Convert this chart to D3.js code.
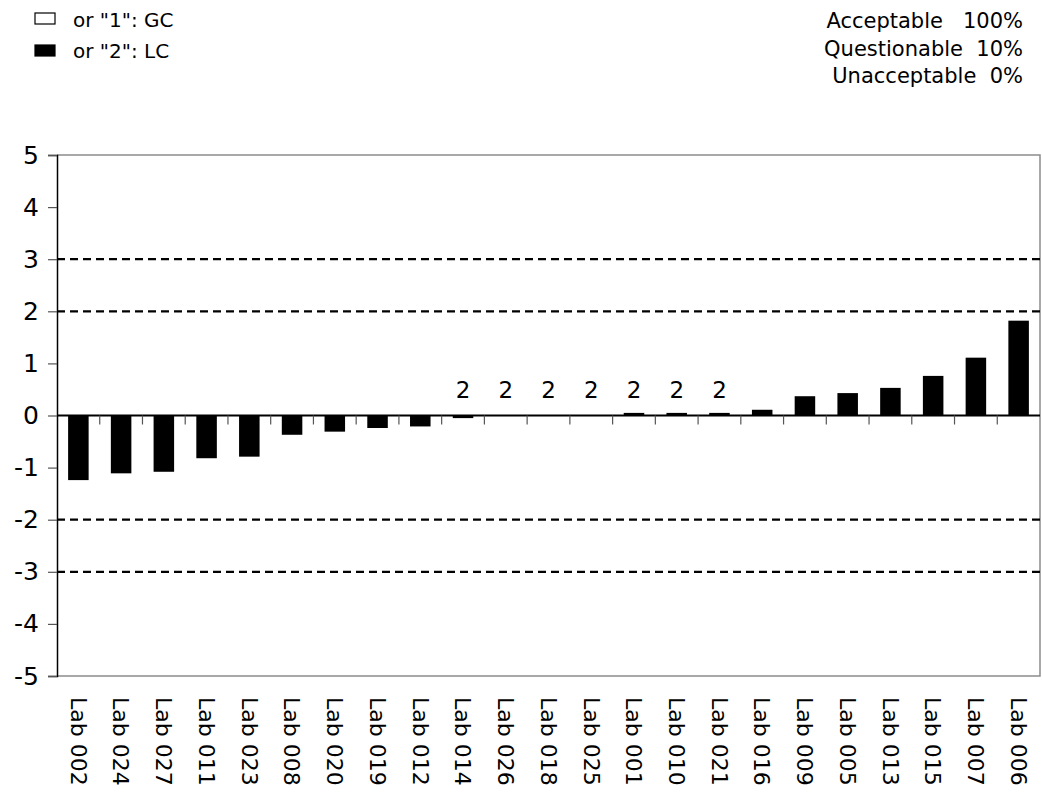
<!DOCTYPE html>
<html>
<head>
<meta charset="utf-8">
<script src="https://cdn.jsdelivr.net/npm/d3@7"></script>
<style>
  body { margin: 0; background: #fff; }
  svg { font-family: "DejaVu Sans", sans-serif; }
</style>
</head>
<body>
<div id="chart"></div>
<script>
// lab results, sorted by z-score
const labs = ["Lab 002", "Lab 024", "Lab 027", "Lab 011", "Lab 023", "Lab 008", "Lab 020", "Lab 019",
  "Lab 012", "Lab 014", "Lab 026", "Lab 018", "Lab 025", "Lab 001", "Lab 010", "Lab 021",
  "Lab 016", "Lab 009", "Lab 005", "Lab 013", "Lab 015", "Lab 007", "Lab 006"];
const zScores = [-1.24, -1.11, -1.08, -0.82, -0.79, -0.37, -0.31, -0.24,
  -0.21, -0.05, 0, 0, 0, 0.05, 0.05, 0.05,
  0.11, 0.37, 0.43, 0.53, 0.76, 1.11, 1.82];
const methods = ["", "", "", "", "", "", "", "",
  "", "2", "2", "2", "2", "2", "2", "2",
  "", "", "", "", "", "", ""];
const yTicks = [-5, -4, -3, -2, -1, 0, 1, 2, 3, 4, 5];
const limits = [3, 2, -2, -3];
const legendItems = [
  { label: 'or "1": GC', filled: false },
  { label: 'or "2": LC', filled: true }
];
const summary = ["Acceptable   100%", "Questionable  10%", "Unacceptable  0%"];

const data = labs.map((lab, i) => ({ lab: lab, z: zScores[i], m: methods[i] }));

const svgWidth = 1042;
const svgHeight = 794;
const margin = { top: 155, right: 2, bottom: 118, left: 57 };
const width = svgWidth - margin.left - margin.right;
const height = svgHeight - margin.top - margin.bottom;

const svg = d3.select("#chart")
  .append("svg")
  .attr("width", svgWidth)
  .attr("height", svgHeight);

const g = svg.append("g")
  .attr("transform", `translate(${margin.left},${margin.top})`);

const x = d3.scaleBand()
  .domain(labs)
  .range([0, width])
  .paddingInner(0.52)
  .paddingOuter(0.26);

const y = d3.scaleLinear()
  .domain([-5, 5])
  .range([height, 0]);

// frame (top, right, bottom)
g.append("path")
  .attr("d", `M0,0H${width}V${height}H0`)
  .attr("fill", "none")
  .attr("stroke", "#8c8c8c")
  .attr("stroke-width", 1.5);

// warning / action limits
g.selectAll(".limit")
  .data(limits)
  .join("line")
  .attr("class", "limit")
  .attr("x1", 0)
  .attr("x2", width)
  .attr("y1", d => y(d))
  .attr("y2", d => y(d))
  .attr("stroke", "#000")
  .attr("stroke-width", 2.2)
  .attr("stroke-dasharray", "8,5");

// bars
g.selectAll(".bar")
  .data(data)
  .join("rect")
  .attr("class", "bar")
  .attr("x", d => x(d.lab))
  .attr("width", x.bandwidth())
  .attr("y", d => y(Math.max(0, d.z)))
  .attr("height", d => Math.abs(y(d.z) - y(0)))
  .attr("fill", "#000");

// zero line with category ticks
g.append("line")
  .attr("x1", 0)
  .attr("x2", width)
  .attr("y1", y(0))
  .attr("y2", y(0))
  .attr("stroke", "#000")
  .attr("stroke-width", 2);

g.selectAll(".ctick")
  .data(labs.slice(0, -1))
  .join("line")
  .attr("class", "ctick")
  .attr("x1", d => x(d) + x.bandwidth() / 2 + x.step() / 2)
  .attr("x2", d => x(d) + x.bandwidth() / 2 + x.step() / 2)
  .attr("y1", y(0))
  .attr("y2", y(0) + 9)
  .attr("stroke", "#555")
  .attr("stroke-width", 1.2);

// method labels
g.selectAll(".mlabel")
  .data(data.filter(d => d.m !== ""))
  .join("text")
  .attr("class", "mlabel")
  .attr("x", d => x(d.lab) + x.bandwidth() / 2)
  .attr("y", y(0) - 18)
  .attr("text-anchor", "middle")
  .style("font-size", "23px")
  .text(d => d.m);

// y axis
const yAxis = g.append("g")
  .call(d3.axisLeft(y).tickValues(yTicks).tickSize(9).tickPadding(9).tickFormat(d => String(d)));
yAxis.select(".domain").attr("stroke", "#000").attr("stroke-width", 1.5);
yAxis.selectAll(".tick line").attr("stroke", "#555").attr("stroke-width", 1.2);
yAxis.selectAll(".tick text")
  .style("font-size", "25px")
  .style("font-family", "DejaVu Sans, sans-serif")
  .attr("fill", "#000");

// x labels, rotated
g.selectAll(".xlabel")
  .data(labs)
  .join("text")
  .attr("class", "xlabel")
  .attr("transform", d => `translate(${x(d) + x.bandwidth() / 2},${height + 21}) rotate(90)`)
  .attr("dy", "0.35em")
  .attr("text-anchor", "start")
  .style("font-size", "22px")
  .text(d => d);

// legend
const legend = svg.append("g");
legendItems.forEach((item, i) => {
  legend.append("rect")
    .attr("x", 35)
    .attr("y", 13 + i * 32)
    .attr("width", 20)
    .attr("height", 11)
    .attr("fill", item.filled ? "#000" : "#fff")
    .attr("stroke", "#000")
    .attr("stroke-width", 1.2);
  legend.append("text")
    .attr("x", 73)
    .attr("y", 27 + i * 31)
    .style("font-size", "20px")
    .text(item.label);
});

// summary
svg.append("g")
  .selectAll("text")
  .data(summary)
  .join("text")
  .attr("x", 1023)
  .attr("y", (d, i) => 28 + i * 27.5)
  .attr("text-anchor", "end")
  .style("font-size", "21px")
  .style("white-space", "pre")
  .text(d => d);
</script>
</body>
</html>
